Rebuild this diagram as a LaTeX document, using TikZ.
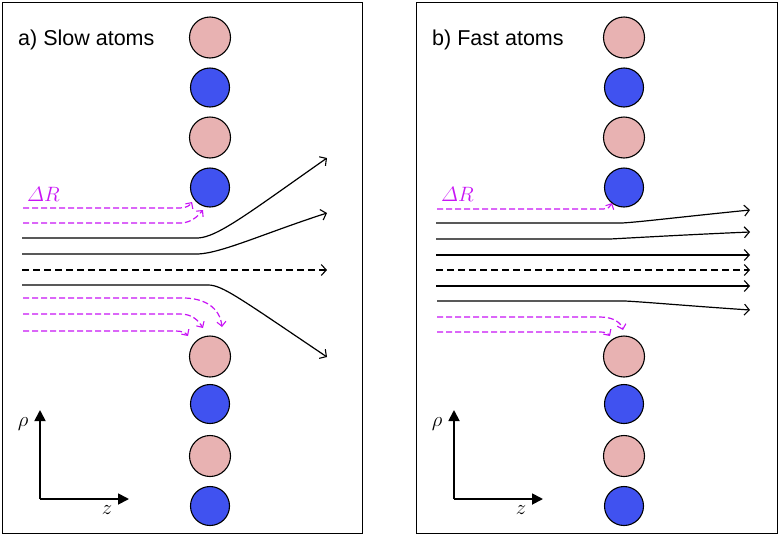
\documentclass[tikz,border=0pt]{standalone}
\usepackage{amsmath}
\usepackage[no-math]{fontspec}
\newfontfamily\arialf{Liberation Sans}
\usetikzlibrary{arrows.meta}
\definecolor{pinkatom}{RGB}{232,178,178}
\definecolor{blueatom}{RGB}{64,82,240}
\definecolor{mag}{RGB}{200,20,245}
\tikzset{
  panel/.style={draw=black, line width=0.9pt},
  atomp/.style={circle, draw=black, line width=1.1pt, fill=pinkatom, minimum size=41pt, inner sep=0pt},
  atomb/.style={circle, draw=black, line width=1.1pt, fill=blueatom, minimum size=39pt, inner sep=0pt},
  stream/.style={line width=1.2pt, -{Straight Barb[length=5pt,width=11pt,line width=1.1pt]}},
  streamd/.style={stream, dash pattern=on 7pt off 4pt},
  mstream/.style={mag, line width=1.2pt, dash pattern=on 6pt off 3pt, -{Straight Barb[length=4.5pt,width=9pt,line width=1.1pt]}},
  axis/.style={line width=1.8pt, -{Triangle[length=11pt,width=11pt]}},
  ttl/.style={font=\arialf\fontsize{21.5}{24}\selectfont, anchor=base west, inner sep=0pt},
  mlab/.style={font=\fontsize{20}{24}\selectfont, inner sep=0pt}
}
\begin{document}
\begin{tikzpicture}[x=1pt,y=-1pt]
\useasboundingbox (0,0) rectangle (779,536);
% panels
\draw[panel] (2,2) rectangle (362,533);
\draw[panel] (416,2) rectangle (777,533);
\node[ttl] (ta) at (18,45) {a) Slow atoms};
\node[ttl] (tb) at (432,45) {b) Fast atoms};
% atoms panel a
\node[atomp] (a1) at (210,37.5) {};
\node[atomb] (a2) at (210,87.5) {};
\node[atomp] (a3) at (210,137.5) {};
\node[atomb] (a4) at (210,187.5) {};
\node[atomp] (a5) at (210,356.5) {};
\node[atomb] (a6) at (210,404) {};
\node[atomp] (a7) at (210,456) {};
\node[atomb] (a8) at (210,506) {};
% atoms panel b
\node[atomp] (b1) at (624,37.5) {};
\node[atomb] (b2) at (624,87.5) {};
\node[atomp] (b3) at (624,137.5) {};
\node[atomb] (b4) at (624,187.5) {};
\node[atomp] (b5) at (624,356.5) {};
\node[atomb] (b6) at (624,404) {};
\node[atomp] (b7) at (624,456) {};
\node[atomb] (b8) at (624,506) {};
% streamlines panel a
\draw[stream] (22,238) -- (198,238) .. controls (218,237) and (250,212) .. (327,158);
\draw[stream] (22,254) -- (198,254) .. controls (222,253) and (265,233) .. (327,213);
\draw[streamd] (22,270) -- (327,270);
\draw[stream] (22,285) -- (208,285) .. controls (222,285) and (238,297) .. (327,357);
\draw[mstream] (23,208) -- (180,208) .. controls (187,208) and (190,205) .. (192,202);
\draw[mstream] (23,223) -- (182,223) .. controls (192,222) and (198,216) .. (203,210);
\draw[mstream] (23,298) -- (183,298) .. controls (205,298) and (220,308) .. (222,327);
\draw[mstream] (23,314) -- (180,314) .. controls (192,314) and (198,320) .. (203,328);
\draw[mstream] (23,331) -- (176,331) .. controls (182,331) and (186,333) .. (188,336);
\node[mlab, text=mag, anchor=base west] (dra) at (27,201) {$\varDelta R$};
% streamlines panel b
\draw[stream] (436,223) -- (622,223) .. controls (640,222) and (680,217) .. (750,210);
\draw[stream] (436,239) -- (610,239) .. controls (630,238) and (680,235) .. (750,232);
\draw[stream] (436,255) -- (750,255);
\draw[streamd] (436,270) -- (750,270);
\draw[stream] (436,286) -- (750,286);
\draw[stream] (437,301) -- (625,301) .. controls (645,302) and (690,306) .. (750,310);
\draw[mstream] (437,209) -- (603,209) .. controls (608,209) and (610,207) .. (612,203);
\draw[mstream] (437,317) -- (600,317) .. controls (614,317) and (621,323) .. (623,330);
\draw[mstream] (437,332) -- (600,332) .. controls (605,332) and (608,333) .. (610,336);
\node[mlab, text=mag, anchor=base west] (drb) at (441,201) {$\varDelta R$};
% axes
\coordinate (oa) at (40,499);
\coordinate (ya) at (40,410);
\coordinate (xa) at (129,499);
\draw[axis] (oa) -- (ya);
\draw[axis] (oa) -- (xa);
\node[mlab] (rhoa) at (23,424) {$\rho$};
\node[mlab] (za) at (107,510) {$z$};
\coordinate (ob) at (454,499);
\coordinate (yb) at (454,410);
\coordinate (xb) at (543,499);
\draw[axis] (ob) -- (yb);
\draw[axis] (ob) -- (xb);
\node[mlab] (rhob) at (437,424) {$\rho$};
\node[mlab] (zb) at (521,510) {$z$};
\end{tikzpicture}
\end{document}
